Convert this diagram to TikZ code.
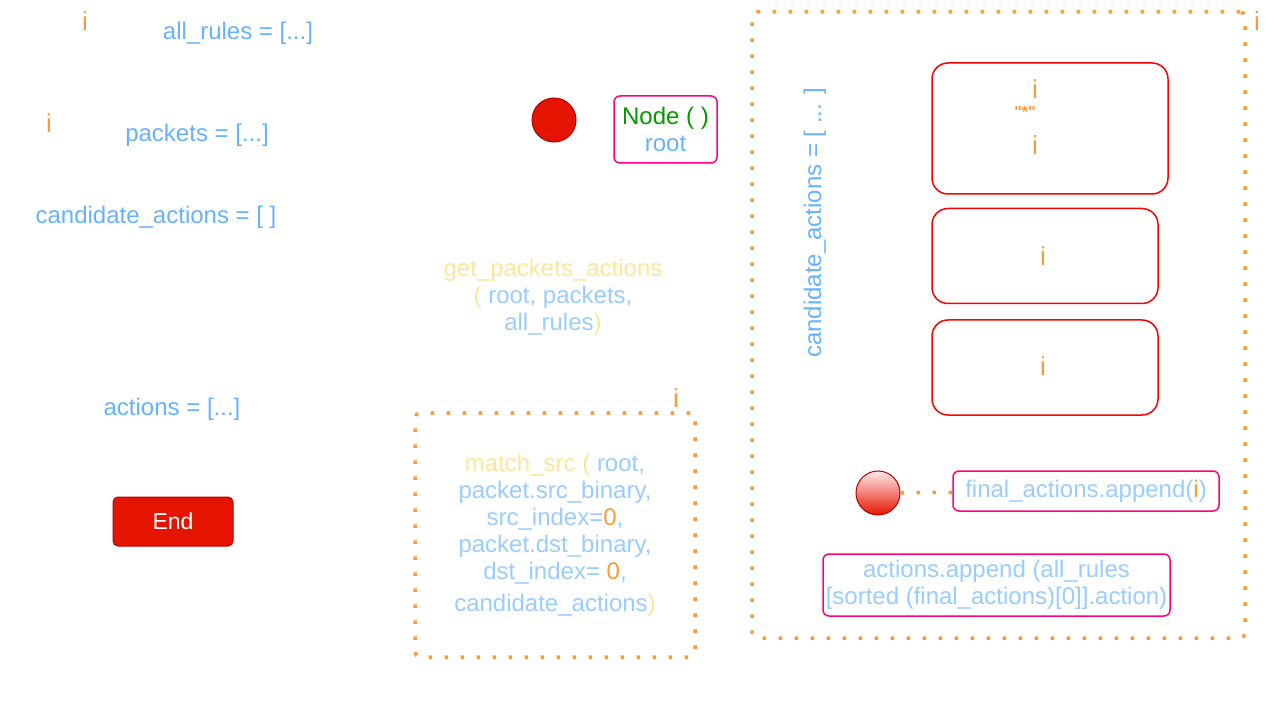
\documentclass[tikz,border=0pt]{standalone}
\usepackage{fontspec}
\setmainfont{Liberation Sans}
\newfontfamily\quotefont{Liberation Sans}[Ligatures=TeXOff]
\usepackage{xcolor}
\usepackage{tikz}
\usetikzlibrary{positioning}

\definecolor{varblue}{HTML}{66B2FF}
\definecolor{argblue}{HTML}{99CCFF}
\definecolor{fnyellow}{HTML}{FFE599}
\definecolor{idxorange}{HTML}{FF9933}
\definecolor{endred}{HTML}{E51400}
\definecolor{endline}{HTML}{B20000}
\definecolor{boxpink}{HTML}{FF0080}
\definecolor{nodegreen}{HTML}{009900}

\begin{document}
\begin{tikzpicture}[
    x=1pt, y=-1pt,
    txt/.style={font=\fontsize{24}{27}\selectfont, inner sep=0pt, align=center},
    var/.style={txt, text=varblue},
    idx/.style={txt, text=idxorange, font=\fontsize{26}{27}\selectfont},
    call/.style={txt, text=argblue},
    dotbox/.style={draw=idxorange, line width=3.5pt, dash pattern=on 3.5pt off 12.5pt,
                rounded corners=5pt, inner sep=0pt},
    dotline/.style={draw=idxorange, line width=3.5pt, dash pattern=on 3.5pt off 12.5pt},
    rulebox/.style={draw=red, line width=1.5pt, rounded corners=16pt, inner sep=0pt},
    opbox/.style={draw=boxpink, line width=1.5pt, rounded corners=6pt, inner sep=0pt},
    dot/.style={circle, draw=endline, line width=1pt, minimum size=44pt, inner sep=0pt}
  ]
    \useasboundingbox (0,0) rectangle (1278,714);

    % left column: inputs
    \node[idx] (iRules)   at (85,21)   {i};
    \node[var] (allrules) at (238,33)  {all\_rules = [...]};
    \node[idx] (iPackets) at (49,123)  {i};
    \node[var] (packets)  at (197,135) {packets = [...]};
    \node[var] (candidx)  at (156,217) {candidate\_actions = [ ]};
    \node[var] (actions)  at (172,409) {actions = [...]};
    \node[draw=endline, fill=endred, line width=1pt, rounded corners=5pt,
          minimum width=120pt, minimum height=49pt, text=white,
          font=\fontsize{23}{25}\selectfont] (end) at (173,521.5) {End};

    % middle: root and calls
    \node[dot, fill=endred] (start) at (554,120) {};
    \node[opbox, minimum width=103pt, minimum height=67pt, txt] (root) at (665.5,129.5)
        {\textcolor{nodegreen}{Node ( )}\\ \textcolor{varblue}{root}};
    \node[call] (getpa) at (553,297)
        {\textcolor{fnyellow}{get\_packets\_actions}\\ \textcolor{fnyellow}{(} root, packets,\\
         all\_rules\textcolor{fnyellow}{)}};
    \node[dotbox, minimum width=280pt, minimum height=244pt, call] (matchsrc) at (555,535)
        {\textcolor{fnyellow}{match\_src (} root,\\ packet.src\_binary,\\
         src\_index=\textcolor{idxorange}{0},\\ packet.dst\_binary,\\
         dst\_index= \textcolor{idxorange}{0},\\[5pt] candidate\_actions\textcolor{fnyellow}{)}};
    \node[idx] (iMatch) at (676,398) {i};

    % right: loop over candidate actions
    \node[dotbox, minimum width=493pt, minimum height=626pt] (loop) at (998.5,325) {};
    \node[idx] (iLoop) at (1257,21) {i};
    \node[var, rotate=90] (cand) at (815,223) {candidate\_actions = [ ... ]};

    \node[rulebox, minimum width=236pt, minimum height=131pt] (ruleA) at (1050,128.5) {};
    \node[rulebox, minimum width=226pt, minimum height=95pt, below=13pt of ruleA.south west,
          anchor=north west] (ruleB) {};
    \node[rulebox, minimum width=226pt, minimum height=95pt, below=15pt of ruleB] (ruleC) {};
    \node[idx] (iA1) at (1035,89)  {i};
    \node[idx, font=\quotefont\bfseries\fontsize{16}{18}\selectfont] (star) at (1025,112) {"*"};
    \node[idx] (iA2) at (1035,145) {i};
    \node[idx] (iB)  at (1043,256) {i};
    \node[idx] (iC)  at (1043,366) {i};

    \node[dot, top color=white!92!red, bottom color=endred, draw=endline] (ball) at (878,493) {};
    \node[opbox, minimum width=266pt, minimum height=40pt, call] (final) at (1086,491)
        {final\_actions.append(\textcolor{idxorange}{i})};
    \node[opbox, minimum width=347pt, minimum height=62pt, call] (append) at (996.5,585)
        {actions.append (all\_rules\\ {[}sorted (final\_actions)[0]].action)};

    \draw[dotline] (ball) -- (final);
  \end{tikzpicture}
\end{document}
